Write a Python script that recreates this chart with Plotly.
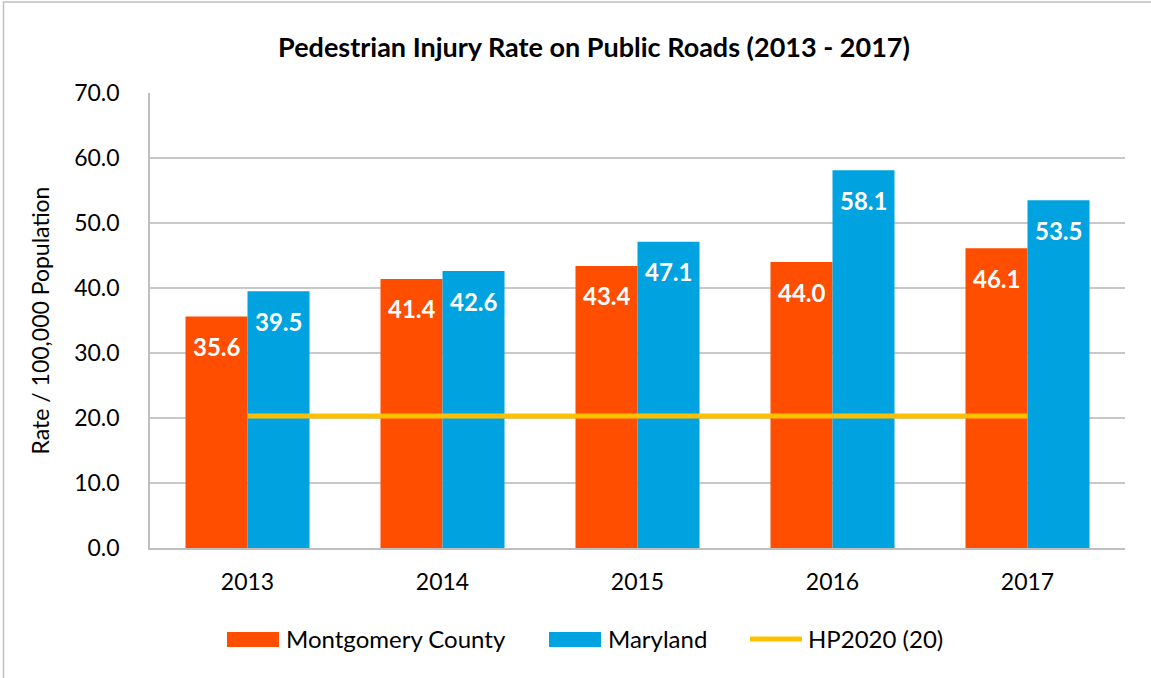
import plotly.graph_objects as go

years = ["2013", "2014", "2015", "2016", "2017"]
montgomery = [35.6, 41.4, 43.4, 44.0, 46.1]
maryland = [39.5, 42.6, 47.1, 58.1, 53.5]
hp2020_target = 20.3
y_ticks = [0, 10, 20, 30, 40, 50, 60, 70]

ORANGE = "#FF4E00"
BLUE = "#00A2DF"
GOLD = "#FFC000"
GRID = "#C8C8C8"
FONT = "Lato, Carlito, Calibri, sans-serif"

W, H = 1151, 678
L, R, T, B = 150, 26, 93, 130
pw = W - L - R
ph = H - T - B


def px(x):
    """Horizontal pixel position -> paper coordinate."""
    return (x - L) / pw


def py(y):
    """Vertical pixel position (from top) -> paper coordinate."""
    return (H - B - y) / ph


fig = go.Figure()
fig.add_trace(go.Bar(x=years, y=montgomery, name="Montgomery County",
                     marker=dict(color=ORANGE, line=dict(width=0))))
fig.add_trace(go.Bar(x=years, y=maryland, name="Maryland",
                     marker=dict(color=BLUE, line=dict(width=0))))
fig.add_trace(go.Scatter(x=years, y=[hp2020_target] * len(years), name="HP2020 (20)",
                         mode="lines", line=dict(color=GOLD, width=5)))

# value labels near the top inside each bar
for series, off in ((montgomery, -0.5), (maryland, 0.5)):
    for i, v in enumerate(series):
        fig.add_annotation(x=i + off * 0.318, y=v, xref="x", yref="y",
                           text=f"<b>{v:.1f}</b>", showarrow=False, yshift=-30,
                           font=dict(family=FONT, size=24, color="white"))

# outer chart frame (top and left edges visible)
fig.add_shape(type="rect", xref="paper", yref="paper",
              x0=px(3.5), x1=px(W + 10), y0=py(H + 10), y1=py(2),
              line=dict(color="#BFBFBF", width=1.5), fillcolor="rgba(0,0,0,0)")

# legend row
legend_y = 638
legend_items = [
    ("rect", ORANGE, 227, 279, "Montgomery County", 284),
    ("rect", BLUE, 549, 601, "Maryland", 606),
    ("line", GOLD, 750, 802, "HP2020 (20)", 806),
]
for kind, color, x0, x1, label, tx in legend_items:
    if kind == "rect":
        fig.add_shape(type="rect", xref="paper", yref="paper",
                      x0=px(x0), x1=px(x1), y0=py(647), y1=py(632),
                      line=dict(width=0), fillcolor=color)
    else:
        fig.add_shape(type="line", xref="paper", yref="paper",
                      x0=px(x0), x1=px(x1), y0=py(639), y1=py(639),
                      line=dict(color=color, width=5))
    fig.add_annotation(xref="paper", yref="paper", x=px(tx), y=py(legend_y),
                       xanchor="left", yanchor="middle", showarrow=False,
                       text=label, font=dict(family=FONT, size=24, color="black"))

fig.update_layout(
    width=W, height=H,
    margin=dict(l=L, r=R, t=T, b=B),
    paper_bgcolor="white", plot_bgcolor="white",
    barmode="group", bargap=0.364, bargroupgap=0,
    showlegend=False,
    title=dict(text="<b>Pedestrian Injury Rate on Public Roads (2013 - 2017)</b>",
               x=594 / W, xanchor="center", y=1 - 48 / H, yanchor="middle",
               font=dict(family=FONT, size=27, color="black")),
    font=dict(family=FONT, color="black"),
    xaxis=dict(type="category", showgrid=False, showline=True,
               linecolor="#BFBFBF", linewidth=1.5, ticks="",
               tickfont=dict(family=FONT, size=23, color="black"), ticklabelstandoff=13),
    yaxis=dict(range=[0, 70], tickvals=y_ticks,
               ticktext=[f"{v:.1f}" for v in y_ticks],
               showgrid=True, gridcolor=GRID, gridwidth=1.5,
               showline=True, linecolor="#BFBFBF", linewidth=1.5,
               zeroline=False, ticks="", ticklabelstandoff=24,
               tickfont=dict(family=FONT, size=23, color="black"),
               title=dict(text="Rate / 100,000 Population", standoff=18,
                          font=dict(family=FONT, size=23, color="black"))),
)

fig.write_html("out.html")
